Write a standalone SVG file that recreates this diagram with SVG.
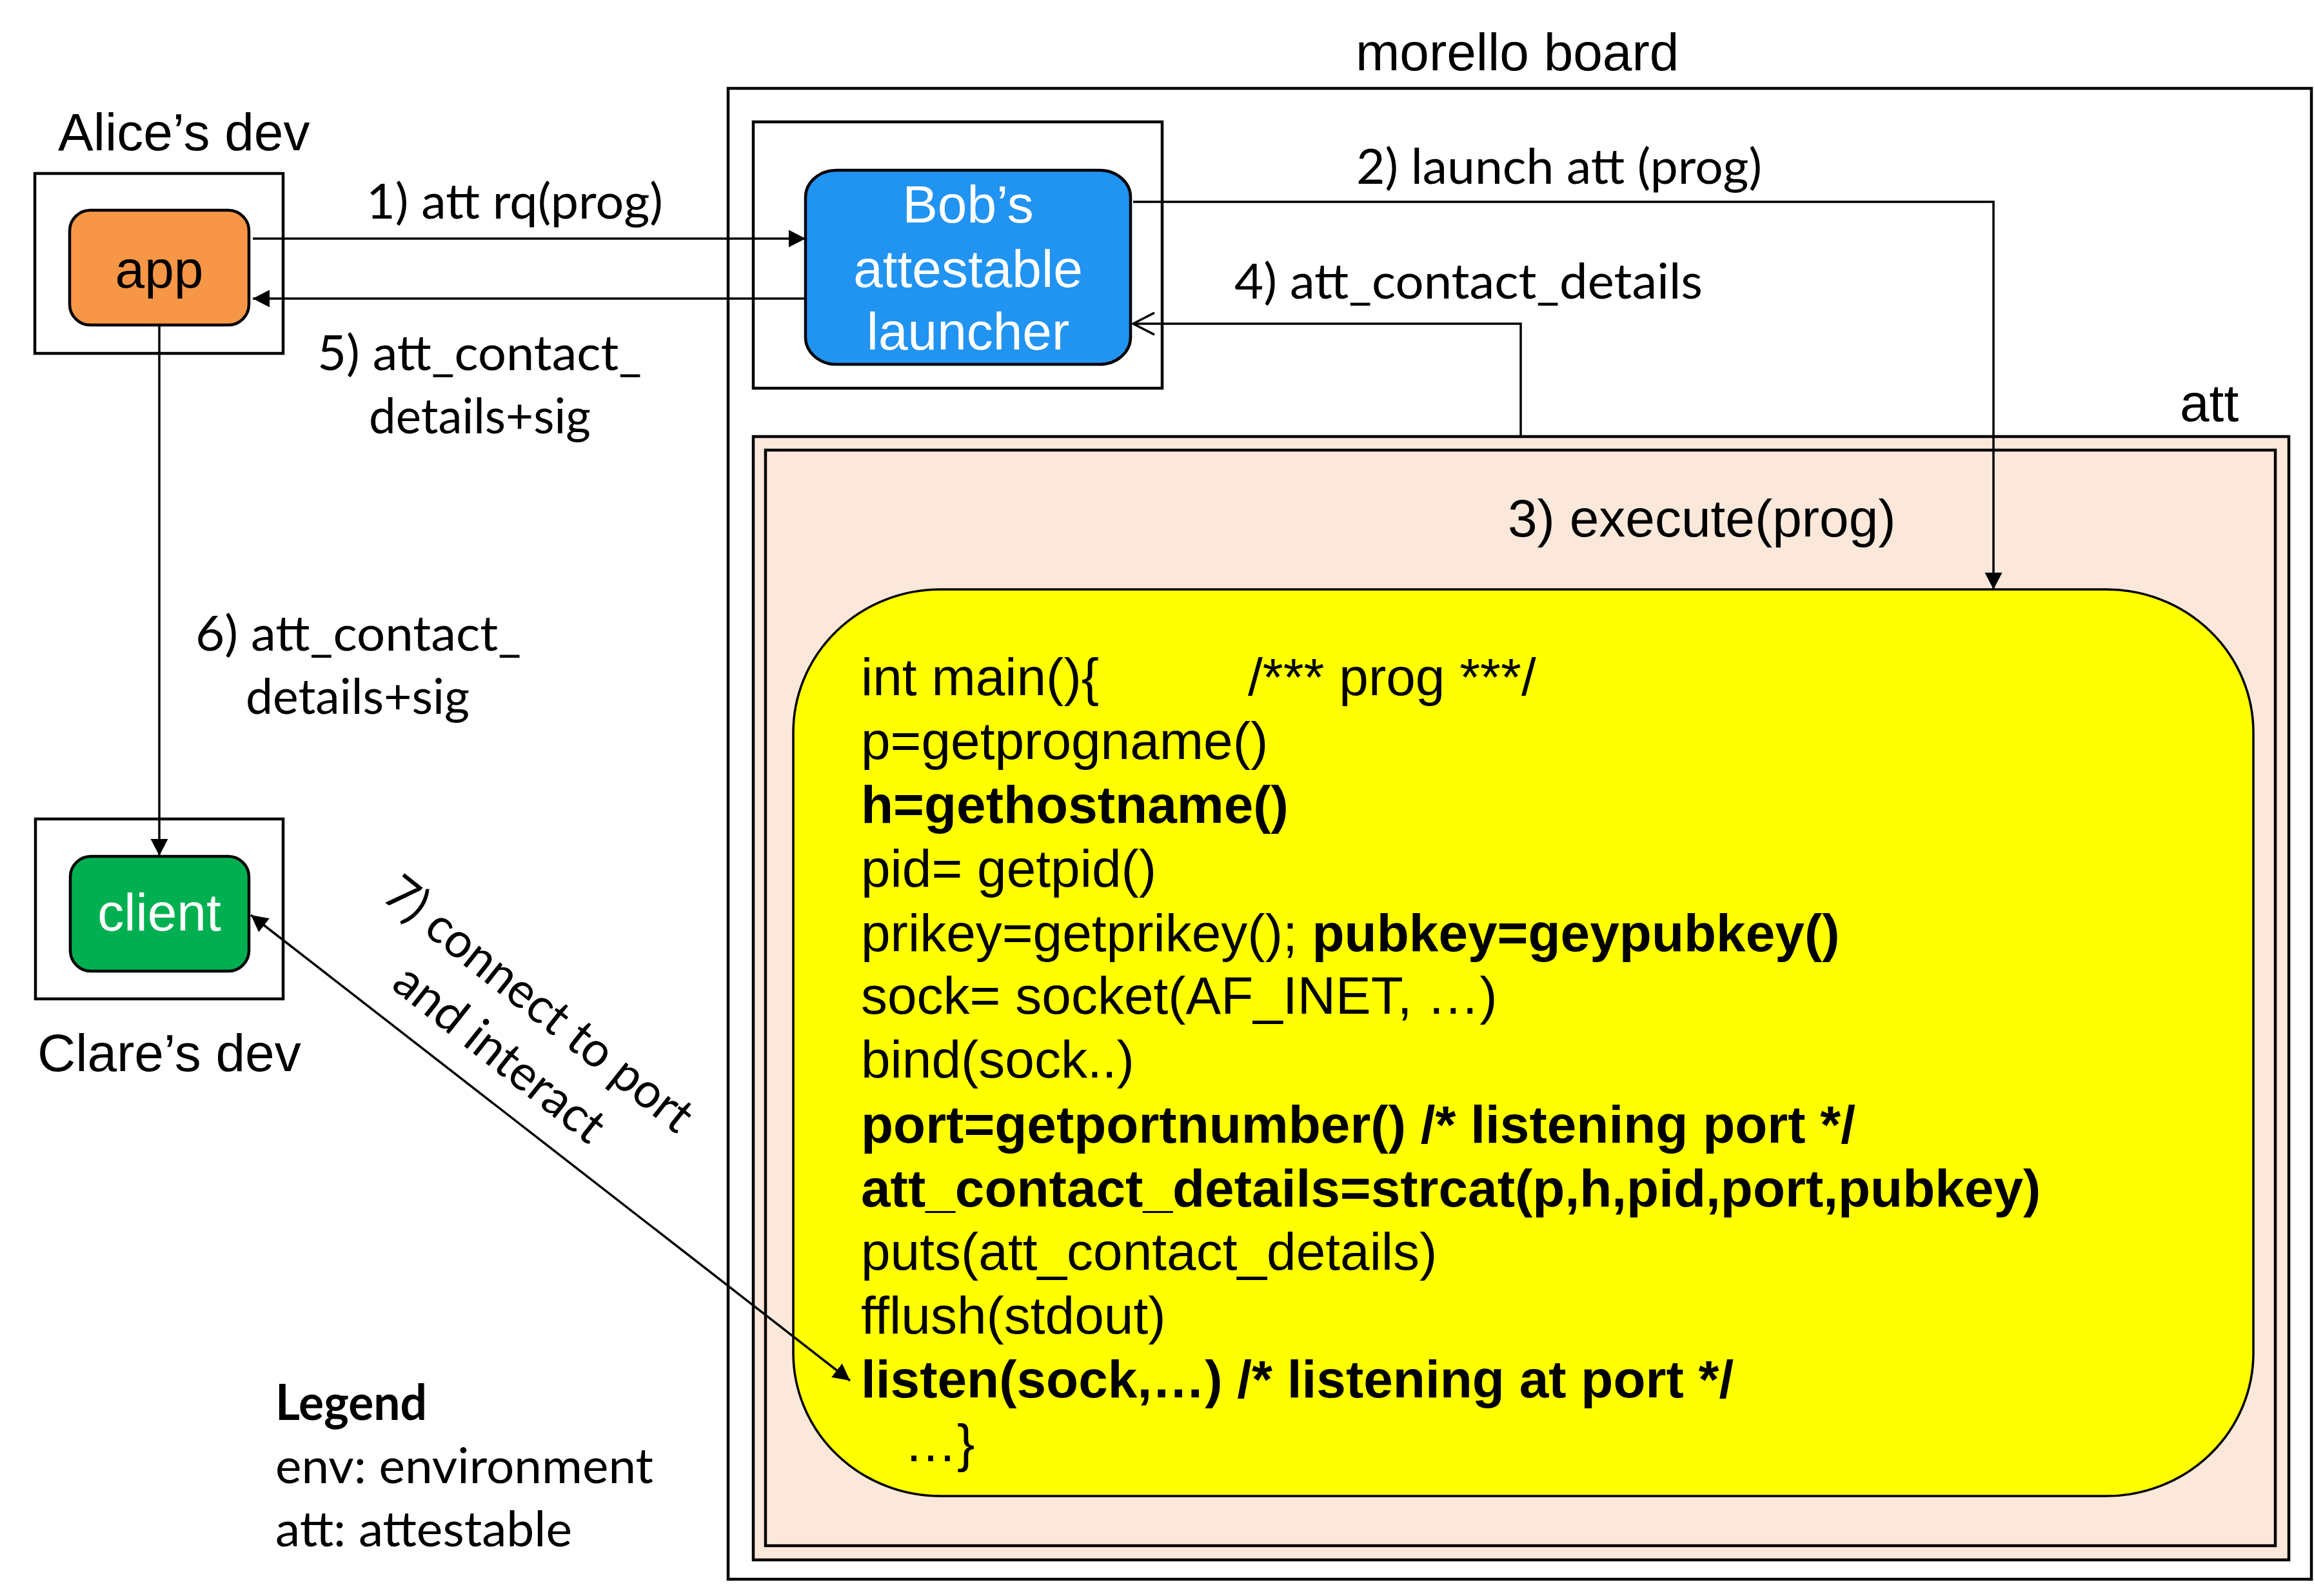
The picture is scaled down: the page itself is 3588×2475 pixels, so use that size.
<svg xmlns="http://www.w3.org/2000/svg" width="3588" height="2475" viewBox="0 0 3588 2475">
<style>
.box{fill:none;stroke:#000;stroke-width:4.5}
.peach{fill:#FCE8DA;stroke:#000;stroke-width:4.5}
.node{stroke:#000;stroke-width:4.5}
.ar{font-family:"Liberation Sans",Arial,sans-serif;font-size:82px;fill:#000}
.wh{fill:#fff}
.lb{font-family:Lato,"Liberation Sans",sans-serif;font-size:76px;fill:#000}
.code{font-family:"Liberation Sans",Arial,sans-serif;font-size:82px;fill:#000}
.b{font-weight:bold}
.con{fill:none;stroke:#000;stroke-width:3.5}
</style>
<defs>
<marker id="fa" markerUnits="userSpaceOnUse" markerWidth="28" markerHeight="28" viewBox="0 0 28 28" refX="26" refY="14" orient="auto-start-reverse"><path d="M0,0.5 L26,14 L0,27.5 z" fill="#000"/></marker>
<marker id="oa" markerUnits="userSpaceOnUse" markerWidth="40" markerHeight="40" viewBox="0 0 40 40" refX="36" refY="20" orient="auto"><path d="M3,3 L36,20 L3,37" fill="none" stroke="#000" stroke-width="3.5"/></marker>
</defs>
<rect width="3588" height="2475" fill="#fff"/>

<g id="morello-board">
<rect class="box" x="1129" y="137" width="2455" height="2312"/>
<text class="ar" x="2102" y="109">morello board</text>
</g>

<g id="bob-env">
<rect class="box" x="1168" y="189" width="634" height="413"/>
</g>

<g id="att-env">
<rect class="peach" x="1168" y="677" width="2381" height="1742"/>
<rect class="peach" x="1187" y="698" width="2341" height="1699"/>
<text class="ar" x="3380" y="653">att</text>
<text class="ar" x="2338" y="832">3) execute(prog)</text>
</g>

<g id="prog">
<rect x="1230" y="914" width="2264" height="1406" rx="228" ry="222" fill="#FFFF00" stroke="#000" stroke-width="3.5"/>
<text class="code">
<tspan x="1335" y="1078">int main(){</tspan><tspan x="1935" y="1078">/*** prog ***/</tspan>
<tspan x="1335" y="1177">p=getprogname()</tspan>
<tspan x="1335" y="1276" class="b">h=gethostname()</tspan>
<tspan x="1335" y="1375">pid= getpid()</tspan>
<tspan x="1335" y="1475">prikey=getprikey(); </tspan><tspan class="b">pubkey=geypubkey()</tspan>
<tspan x="1335" y="1572">sock= socket(AF_INET, …)</tspan>
<tspan x="1335" y="1671">bind(sock..)</tspan>
<tspan x="1335" y="1772" class="b">port=getportnumber() /* listening port */</tspan>
<tspan x="1335" y="1871" class="b">att_contact_details=strcat(p,h,pid,port,pubkey)</tspan>
<tspan x="1335" y="1969">puts(att_contact_details)</tspan>
<tspan x="1335" y="2068">fflush(stdout)</tspan>
<tspan x="1335" y="2167" class="b">listen(sock,…) /* listening at port */</tspan>
<tspan x="1402" y="2266">…}</tspan>
</text>
</g>

<g id="alice-dev">
<rect class="box" x="54" y="269" width="385" height="279"/>
<text class="ar" x="90" y="233">Alice’s dev</text>
</g>

<g id="clare-dev">
<rect class="box" x="55" y="1270" width="384" height="279"/>
<text class="ar" x="58" y="1661">Clare’s dev</text>
</g>

<g id="connectors">
<line class="con" x1="392" y1="370" x2="1249" y2="370" marker-end="url(#fa)"/>
<line class="con" x1="1249" y1="463" x2="392" y2="463" marker-end="url(#fa)"/>
<polyline class="con" points="1757,313 3091,313 3091,914" marker-end="url(#fa)"/>
<polyline class="con" points="2358,677 2358,502 1757,502" marker-end="url(#oa)"/>
<line class="con" x1="247" y1="504" x2="247" y2="1327" marker-end="url(#fa)"/>
<line class="con" x1="389" y1="1419" x2="1318" y2="2141" marker-start="url(#fa)" marker-end="url(#fa)"/>
<text class="lb" x="568" y="339" textLength="460" lengthAdjust="spacingAndGlyphs">1) att rq(prog)</text>
<text class="lb" x="2103" y="285" textLength="629" lengthAdjust="spacingAndGlyphs">2) launch att (prog)</text>
<text class="lb" x="1914" y="463" textLength="726" lengthAdjust="spacingAndGlyphs">4) att_contact_details</text>
<text class="lb" x="492" y="574" textLength="503" lengthAdjust="spacingAndGlyphs">5) att_contact_</text>
<text class="lb" x="572" y="672" textLength="344" lengthAdjust="spacingAndGlyphs">details+sig</text>
<text class="lb" x="303" y="1009" textLength="505" lengthAdjust="spacingAndGlyphs">6) att_contact_</text>
<text class="lb" x="381" y="1107" textLength="347" lengthAdjust="spacingAndGlyphs">details+sig</text>
<g transform="translate(820,1577) rotate(38.5)">
<text class="lb" x="0" y="0" text-anchor="middle" textLength="587" lengthAdjust="spacingAndGlyphs">7) connect to port</text>
<text class="lb" x="0" y="98" text-anchor="middle" textLength="394" lengthAdjust="spacingAndGlyphs">and interact</text>
</g>
</g>

<g id="app">
<rect class="node" x="108" y="326" width="278" height="178" rx="32" fill="#F79646"/>
<text class="ar" x="247" y="446" text-anchor="middle">app</text>
</g>

<g id="client">
<rect class="node" x="109" y="1328" width="277" height="178" rx="32" fill="#00B050"/>
<text class="ar wh" x="247" y="1443" text-anchor="middle">client</text>
</g>

<g id="bob-launcher">
<rect class="node" x="1249" y="264" width="504" height="301" rx="48" ry="42" fill="#2193F1"/>
<text class="ar wh" text-anchor="middle"><tspan x="1501" y="345">Bob’s</tspan><tspan x="1501" y="445">attestable</tspan><tspan x="1501" y="542">launcher</tspan></text>
</g>

<g id="legend">
<text class="lb b" x="427" y="2202" textLength="235" lengthAdjust="spacingAndGlyphs">Legend</text>
<text class="lb" x="427" y="2300" textLength="586" lengthAdjust="spacingAndGlyphs">env: environment</text>
<text class="lb" x="427" y="2398" textLength="460" lengthAdjust="spacingAndGlyphs">att: attestable</text>
</g>
</svg>
